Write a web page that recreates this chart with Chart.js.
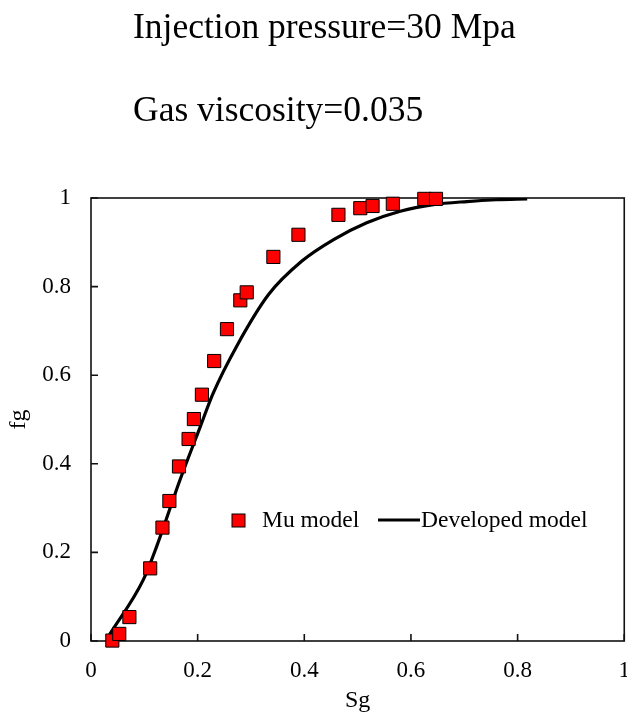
<!DOCTYPE html>
<html>
<head>
<meta charset="utf-8">
<script src="https://cdn.jsdelivr.net/npm/chart.js@4/dist/chart.umd.min.js"></script>
<style>
  html, body { margin: 0; padding: 0; background: #fff; overflow: hidden; }
  canvas { display: block; }
</style>
</head>
<body>
<!-- a bit wider than the page so the "1" label can run off the right edge -->
<canvas id="myChart" width="646" height="723"></canvas>
<script>
var titulo1 = "Injection pressure=30 Mpa";
var titulo2 = "Gas viscosity=0.035";

// Mu model (squares)
var muSg = [0.040, 0.053, 0.072, 0.111, 0.134, 0.147, 0.165, 0.183, 0.193, 0.208, 0.231,
            0.255, 0.280, 0.292, 0.342, 0.389, 0.464, 0.505, 0.528, 0.566, 0.625, 0.647];
var muFg = [0.001, 0.016, 0.054, 0.164, 0.256, 0.316, 0.394, 0.456, 0.501, 0.556, 0.632,
            0.704, 0.769, 0.787, 0.867, 0.917, 0.962, 0.977, 0.982, 0.987, 0.998, 0.998];

// Developed model (line)
var devSg = [0.035, 0.098, 0.123, 0.167, 0.205, 0.229, 0.273, 0.333, 0.395, 0.455,
             0.517, 0.580, 0.642, 0.705, 0.760, 0.818];
var devFg = [0.015, 0.138, 0.213, 0.364, 0.484, 0.559, 0.665, 0.782, 0.857, 0.906,
             0.944, 0.970, 0.985, 0.992, 0.996, 0.998];

var eixoMin = 0, eixoMax = 1, passo = 0.2;

var fonte = "'Liberation Serif', 'Times New Roman', serif";

function pontos(xs, ys) {
  return xs.map(function (x, i) { return { x: x, y: ys[i] }; });
}

// 0, 0.2 ... 1 (sem "1.0")
function rotulo(v) {
  return String(Number(v.toFixed(1)));
}

// frame, inner tick marks, titles and legend
var extras = {
  id: 'extras',
  beforeDatasetsDraw: function (chart) {
    var ctx = chart.ctx, a = chart.chartArea;
    var sx = chart.scales.x, sy = chart.scales.y;
    ctx.save();
    ctx.strokeStyle = '#111';
    ctx.lineWidth = 1.6;
    ctx.strokeRect(a.left, a.top, a.right - a.left, a.bottom - a.top);
    ctx.beginPath();
    sx.ticks.forEach(function (t) {
      var px = sx.getPixelForValue(t.value);
      ctx.moveTo(px, a.bottom);
      ctx.lineTo(px, a.bottom - 7);
    });
    sy.ticks.forEach(function (t) {
      var py = sy.getPixelForValue(t.value);
      ctx.moveTo(a.left, py);
      ctx.lineTo(a.left + 7, py);
    });
    ctx.stroke();
    ctx.restore();
  },
  afterDraw: function (chart) {
    var ctx = chart.ctx;
    var ds = chart.data.datasets;
    ctx.save();
    ctx.fillStyle = '#000';
    ctx.textBaseline = 'alphabetic';
    ctx.textAlign = 'left';
    ctx.font = "35.5px " + fonte;
    ctx.fillText(titulo1, 133, 38);
    ctx.fillText(titulo2, 133, 121);

    // legend
    ctx.font = "23.5px " + fonte;
    ctx.fillStyle = ds[0].backgroundColor;
    ctx.strokeStyle = ds[0].borderColor;
    ctx.lineWidth = 1;
    ctx.fillRect(232, 514, 13, 13);
    ctx.strokeRect(232, 514, 13, 13);
    ctx.fillStyle = '#000';
    ctx.fillText(ds[0].label, 262, 527);
    ctx.strokeStyle = ds[1].borderColor;
    ctx.lineWidth = ds[1].borderWidth;
    ctx.beginPath();
    ctx.moveTo(378, 520);
    ctx.lineTo(420, 520);
    ctx.stroke();
    ctx.fillText(ds[1].label, 421, 527);
    ctx.restore();
  }
};

var ctx = document.getElementById('myChart').getContext('2d');
var chart = new Chart(ctx, {
  type: 'scatter',
  data: {
    datasets: [{
      label: 'Mu model',
      data: pontos(muSg, muFg),
      backgroundColor: '#ff0000',
      borderColor: '#000',
      borderWidth: 1,
      pointStyle: 'rect',
      pointRadius: 9.3,
      clip: false
    }, {
      label: 'Developed model',
      data: pontos(devSg, devFg),
      showLine: true,
      borderColor: '#000',
      borderWidth: 3.2,
      pointRadius: 0,
      cubicInterpolationMode: 'monotone',
      fill: false
    }]
  },
  options: {
    responsive: false,
    animation: false,
    layout: { padding: { top: 198, right: 16, bottom: 0, left: 0 } },
    plugins: {
      legend: { display: false },
      title: { display: false },
      tooltip: { enabled: false }
    },
    scales: {
      x: {
        type: 'linear',
        min: eixoMin, max: eixoMax,
        ticks: { stepSize: passo, color: '#000', padding: 16, maxRotation: 0,
                 callback: rotulo, font: { family: fonte, size: 23 } },
        grid: { display: false, drawTicks: false },
        border: { display: false },
        title: { display: true, text: 'Sg', color: '#000', padding: { top: 0, bottom: 8 },
                 font: { family: fonte, size: 24 } },
        afterFit: function (s) { s.height = 82; }
      },
      y: {
        type: 'linear',
        min: eixoMin, max: eixoMax,
        ticks: { stepSize: passo, color: '#000', padding: 20,
                 callback: rotulo, font: { family: fonte, size: 23 } },
        grid: { display: false, drawTicks: false },
        border: { display: false },
        title: { display: true, text: 'fg', color: '#000', padding: { top: 4, bottom: 0 },
                 font: { family: fonte, size: 24 } },
        afterFit: function (s) { s.width = 91; }
      }
    }
  },
  plugins: [extras]
});
</script>
</body>
</html>
